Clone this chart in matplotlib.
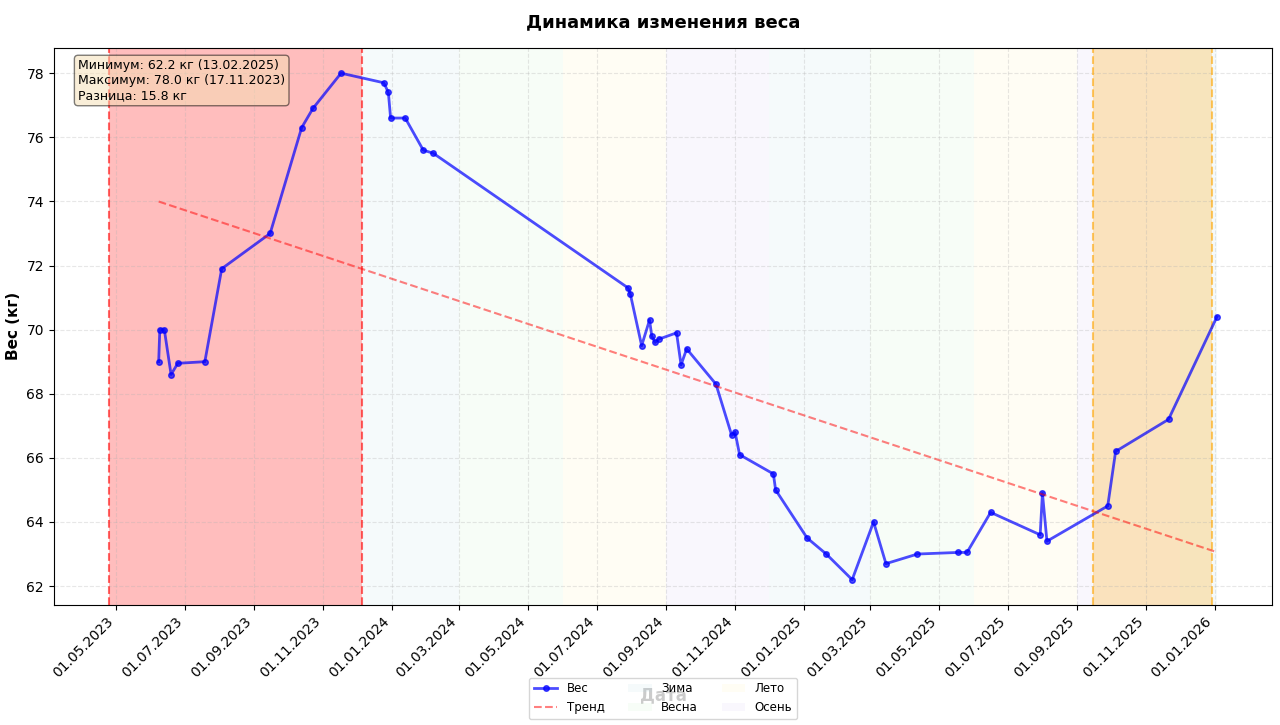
import matplotlib
matplotlib.use('Agg')
import matplotlib.pyplot as plt
import matplotlib.dates as mdates
from matplotlib.patches import Patch
from matplotlib.lines import Line2D
import numpy as np
import pandas as pd

dates = ['2023-06-08', '2023-06-09', '2023-06-13', '2023-06-19', '2023-06-25',
         '2023-07-19', '2023-08-03', '2023-09-15', '2023-10-13', '2023-10-23',
         '2023-11-17', '2023-12-25', '2023-12-29', '2023-12-31', '2024-01-13',
         '2024-01-29', '2024-02-07', '2024-07-29', '2024-07-31', '2024-08-10',
         '2024-08-17', '2024-08-19', '2024-08-22', '2024-08-25', '2024-09-10',
         '2024-09-14', '2024-09-19', '2024-10-15', '2024-10-29', '2024-11-01',
         '2024-11-05', '2024-12-05', '2024-12-07', '2025-01-04', '2025-01-21',
         '2025-02-13', '2025-03-04', '2025-03-15', '2025-04-12', '2025-05-18',
         '2025-05-26', '2025-06-16', '2025-07-30', '2025-08-01', '2025-08-05',
         '2025-09-28', '2025-10-05', '2025-11-21', '2026-01-03']
weights = [69.0, 70.0, 70.0, 68.6, 68.95,
           69.0, 71.9, 73.0, 76.3, 76.9,
           78.0, 77.7, 77.4, 76.6, 76.6,
           75.6, 75.5, 71.3, 71.1, 69.5,
           70.3, 69.8, 69.6, 69.7, 69.9,
           68.9, 69.4, 68.3, 66.7, 66.8,
           66.1, 65.5, 65.0, 63.5, 63.0,
           62.2, 64.0, 62.7, 63.0, 63.05,
           63.05, 64.3, 63.6, 64.9, 63.4,
           64.5, 66.2, 67.2, 70.4]

# выделенные периоды
red_period = ('2023-04-25', '2023-12-06')
orange_period = ('2025-09-15', '2025-12-30')

season_names = ['Зима', 'Весна', 'Лето', 'Осень']
season_colors = ['lightblue', 'lightgreen', 'gold', 'mediumpurple']
season_alpha = [0.12, 0.07, 0.045, 0.05]

df = pd.DataFrame({'date': pd.to_datetime(dates), 'weight': weights})

fig, ax = plt.subplots(figsize=(12.8, 7.25), dpi=100)

def season_of(month):
    if month in (12, 1, 2):
        return 0
    if month in (3, 4, 5):
        return 1
    if month in (6, 7, 8):
        return 2
    return 3

# сезоны по месяцам (вне красного периода)
first = max(df['date'].min(), pd.Timestamp(red_period[1]))
last = df['date'].max()
m = pd.Timestamp(first.year, first.month, 1)
while m <= last:
    nxt = m + pd.offsets.MonthBegin(1)
    s = season_of(m.month)
    ax.axvspan(max(m, first), min(nxt, last), color=season_colors[s],
               alpha=season_alpha[s], lw=0)
    m = nxt

# периоды
ax.axvspan(pd.Timestamp(red_period[0]), pd.Timestamp(red_period[1]), color='red', alpha=0.26, lw=0)
for d in red_period:
    ax.axvline(pd.Timestamp(d), color='red', linestyle='--', alpha=0.6, linewidth=1.5)
ax.axvspan(pd.Timestamp(orange_period[0]), pd.Timestamp(orange_period[1]), color='orange', alpha=0.25, lw=0)
for d in orange_period:
    ax.axvline(pd.Timestamp(d), color='orange', linestyle='--', alpha=0.6, linewidth=1.5)

ax.plot(df['date'], df['weight'], 'o-', color='blue', alpha=0.7, linewidth=2, markersize=4, label='Вес')

# тренд
xnum = mdates.date2num(df['date'])
z = np.polyfit(xnum, df['weight'], 1)
ax.plot(df['date'].iloc[[0, -1]], np.polyval(z, xnum[[0, -1]]), 'r--', alpha=0.5, linewidth=1.5, label='Тренд')

ax.set_title('Динамика изменения веса', fontsize=13, fontweight='bold', pad=15)
ax.set_xlabel('Дата', fontsize=12, fontweight='bold')
ax.set_ylabel('Вес (кг)', fontsize=11, fontweight='bold')
ax.grid(True, linestyle='--', alpha=0.3)

ax.xaxis.set_major_locator(mdates.MonthLocator(bymonth=[1, 3, 5, 7, 9, 11]))
ax.xaxis.set_major_formatter(mdates.DateFormatter('%d.%m.%Y'))
plt.setp(ax.get_xticklabels(), rotation=45, ha='right')

imin = df['weight'].idxmin()
imax = df['weight'].idxmax()
info = (f"Минимум: {df['weight'][imin]:.1f} кг ({df['date'][imin]:%d.%m.%Y})\n"
        f"Максимум: {df['weight'][imax]:.1f} кг ({df['date'][imax]:%d.%m.%Y})\n"
        f"Разница: {df['weight'][imax] - df['weight'][imin]:.1f} кг")
ax.text(0.02, 0.98, info, transform=ax.transAxes, fontsize=9, va='top',
        bbox=dict(boxstyle='round', facecolor='wheat', alpha=0.5))

handles = [Line2D([], [], color='blue', alpha=0.7, linewidth=2, marker='o', markersize=4),
           Line2D([], [], color='red', alpha=0.5, linestyle='--', linewidth=1.5)]
handles += [Patch(facecolor=c, alpha=a) for c, a in zip(season_colors, season_alpha)]
labels = ['Вес', 'Тренд'] + season_names
ax.legend(handles, labels, loc='upper center', bbox_to_anchor=(0.5, -0.12), ncol=3, fontsize=8.5)

plt.subplots_adjust(left=0.042, right=0.994, top=0.934, bottom=0.1655)
plt.savefig('out.png')
